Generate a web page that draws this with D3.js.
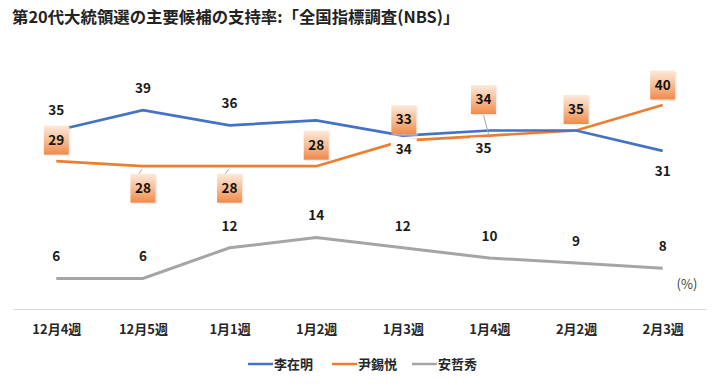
<!DOCTYPE html>
<html>
<head>
<meta charset="utf-8">
<script src="https://cdn.jsdelivr.net/npm/d3@7/dist/d3.min.js"></script>
<style>
body{margin:0;background:#fff}
svg{display:block}
text{font-family:"Noto Sans CJK JP","Noto Sans",sans-serif}
</style>
</head>
<body>
<svg width="720" height="388"></svg>
<script>
const weeks=["12月4週","12月5週","1月1週","1月2週","1月3週","1月4週","2月2週","2月3週"]
const lee=[35,39,36,37,34,35,35,31]
const yoon=[29,28,28,28,33,34,35,40]
const ahn=[6,6,12,14,12,10,9,8]
const names=["李在明","尹錫悦","安哲秀"]
const colors=["#4472c4","#ed7d31","#a5a5a5"]

// label placement (offset from point), null = not shown
const leeOff=[[0,-20],[0,-22],[0,-22],[-2,22],[1,14],[-6,18],null,[0,20]]
const yoonOff=[[0,-21],[0,22],[0,22],[0,-21],[1,-21],[-6,-36],[0,-21],[0,-20]]

const svg=d3.select("svg")
const x=d3.scalePoint().domain(weeks).range([13,706]).padding(0.5)
const y=d3.scaleLinear().domain([0,45]).range([309,79.5])

svg.append("text").attr("x",12).attr("y",23)
.attr("font-size",16.4).attr("font-weight",700).attr("fill","#222")
.text("第20代大統領選の主要候補の支持率:「全国指標調査(NBS)」")

// gradient for box labels
const grad=svg.append("defs").append("linearGradient").attr("id","bx").attr("x1",0).attr("y1",0).attr("x2",0).attr("y2",1)
grad.append("stop").attr("offset","0%").attr("stop-color","#fde9db")
grad.append("stop").attr("offset","55%").attr("stop-color","#f7b98d")
grad.append("stop").attr("offset","100%").attr("stop-color","#ef8a4c")

// axis
const ax=svg.append("g").attr("transform","translate(0,309)")
.call(d3.axisBottom(x).tickSize(0).tickPadding(16))
ax.select(".domain").attr("stroke","#d9d9d9")
ax.selectAll("text").attr("font-size",13).attr("font-weight",700).attr("fill","#262626")
.attr("font-family","'Noto Sans CJK JP',sans-serif")

svg.append("text").attr("x",687).attr("y",289).attr("text-anchor","middle")
.attr("font-size",13).attr("fill","#404040").text("(%)")

const line=d3.line().x((d,i)=>x(weeks[i])).y(d=>y(d))
const series=[ahn,yoon,lee]
const cols=[colors[2],colors[1],colors[0]]
series.forEach((s,k)=>{
svg.append("path").datum(s).attr("d",line).attr("fill","none")
.attr("stroke",cols[k]).attr("stroke-width",k==0?3:2.7)
})

const numFont="'DejaVu Sans',sans-serif"
// Ahn labels
svg.selectAll(".ahn").data(ahn).join("text")
.attr("x",(d,i)=>x(weeks[i])).attr("y",d=>y(d)-22).attr("dy","0.35em")
.attr("text-anchor","middle").attr("font-size",13.5).attr("font-weight",700)
.attr("font-family",numFont).attr("fill","#1a1a1a").text(d=>d)

// Lee labels with white background
const lg=svg.selectAll(".lee").data(lee.map((v,i)=>({v,i})).filter(d=>leeOff[d.i]!==null)).join("g")
.attr("transform",d=>`translate(${x(weeks[d.i])+leeOff[d.i][0]},${y(d.v)+leeOff[d.i][1]})`)
lg.append("rect").attr("x",-13).attr("y",-11).attr("width",26).attr("height",22).attr("fill","#fff")
lg.append("text").attr("dy","0.35em").attr("text-anchor","middle").attr("font-size",13.5)
.attr("font-weight",700).attr("font-family",numFont).attr("fill","#1a1a1a").text(d=>d.v)

// Yoon boxes
const yd=yoon.map((v,i)=>({v,i,cx:x(weeks[i])+yoonOff[i][0],cy:y(v)+yoonOff[i][1]}))
yd.filter(d=>yoonOff[d.i][1]>0).forEach(d=>{
svg.append("line").attr("x1",x(weeks[d.i])-1).attr("y1",y(d.v)+3).attr("x2",d.cx-5).attr("y2",d.cy-13)
.attr("stroke","#a6a6a6").attr("stroke-width",1)
})
yd.filter(d=>Math.abs(yoonOff[d.i][0])>2).forEach(d=>{
svg.append("line").attr("x1",d.cx).attr("y1",d.cy+15).attr("x2",x(weeks[d.i])).attr("y2",y(d.v)+2)
.attr("stroke","#a6a6a6").attr("stroke-width",1)
})
const bg=svg.selectAll(".yoon").data(yd).join("g")
.attr("transform",d=>`translate(${d.cx},${d.cy})`)
bg.append("rect").attr("x",-11).attr("y",-13).attr("width",25).attr("height",29).attr("fill","#e9e0da").attr("opacity",0.6)
bg.append("rect").attr("x",-12.5).attr("y",-14.5).attr("width",25).attr("height",29).attr("fill","url(#bx)")
bg.append("text").attr("dy","0.35em").attr("text-anchor","middle").attr("font-size",13.5)
.attr("font-weight",700).attr("font-family",numFont).attr("fill","#111").text(d=>d.v)

// legend
const leg=svg.append("g").attr("transform","translate(248,364)")
const lx=[0,84,164]
names.forEach((n,i)=>{
const g=leg.append("g").attr("transform",`translate(${lx[i]},0)`)
g.append("line").attr("x1",0).attr("x2",25).attr("stroke",colors[i]).attr("stroke-width",2.5)
g.append("text").attr("x",26).attr("dy","0.35em").attr("font-size",13).attr("font-weight",700)
.attr("fill","#262626").text(n)
})
</script>
</body>
</html>
